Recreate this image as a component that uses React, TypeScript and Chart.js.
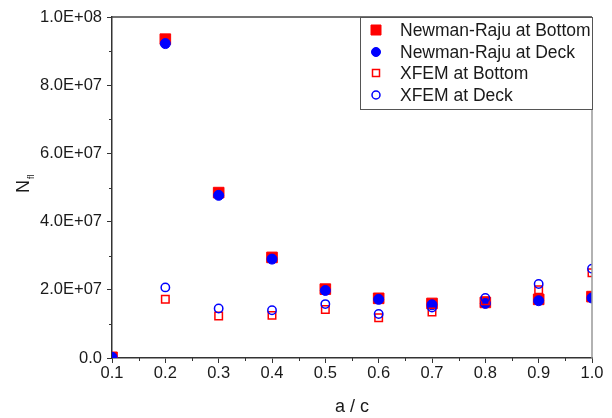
import React, { useEffect, useRef } from "react";
import { Chart, registerables } from "chart.js";

Chart.register(...registerables);

const xValues = [0.1, 0.2, 0.3, 0.4, 0.5, 0.6, 0.7, 0.8, 0.9, 1.0];
const nrBottom = [0.2e6, 93.5e6, 48.5e6, 29.5e6, 20.2e6, 17.5e6, 16.0e6, 16.3e6, 17.2e6, 18.0e6];
const nrDeck = [0.2e6, 92.2e6, 47.7e6, 29.0e6, 19.8e6, 17.2e6, 15.6e6, 16.0e6, 16.8e6, 17.6e6];
const xfemBottom = [null, 17.2e6, 12.3e6, 12.5e6, 14.2e6, 11.8e6, 13.5e6, 16.8e6, 20.0e6, 25.0e6];
const xfemDeck = [null, 20.7e6, 14.5e6, 14.0e6, 15.8e6, 12.9e6, 14.8e6, 17.6e6, 21.7e6, 26.2e6];
const seriesLabels = ["Newman-Raju at Bottom", "Newman-Raju at Deck", "XFEM at Bottom", "XFEM at Deck"];

const FONT = "'Liberation Sans', Arial, sans-serif";

const toPts = (arr: (number | null)[]) =>
  xValues.map((x, i) => ({ x, y: arr[i] })).filter((p) => p.y !== null);

const fmtY = (v: number) => {
  if (v === 0) return "0.0";
  return v
    .toExponential(1)
    .toUpperCase()
    .replace(/E([+-])(\d)$/, "E$10$2");
};

const decorPlugin = {
  id: "decor",
  afterDraw(chart: any) {
    const { ctx, chartArea } = chart;
    const { left, right, top, bottom } = chartArea;
    const xs = chart.scales.x;
    const ys = chart.scales.y;
    ctx.save();
    ctx.lineWidth = 1.5;
    ctx.strokeStyle = "#444";
    ctx.beginPath();
    ctx.moveTo(left, top);
    ctx.lineTo(right, top);
    ctx.stroke();
    ctx.strokeStyle = "#999";
    ctx.beginPath();
    ctx.moveTo(right, top);
    ctx.lineTo(right, bottom);
    ctx.stroke();
    ctx.strokeStyle = "#333";
    ctx.lineWidth = 1;
    for (let i = 0; i < 9; i++) {
      const px = Math.round(xs.getPixelForValue(0.15 + i * 0.1)) + 0.5;
      ctx.beginPath();
      ctx.moveTo(px, bottom);
      ctx.lineTo(px, bottom + 3);
      ctx.stroke();
    }
    for (let i = 0; i < 5; i++) {
      const py = Math.round(ys.getPixelForValue(1e7 + i * 2e7)) + 0.5;
      ctx.beginPath();
      ctx.moveTo(left, py);
      ctx.lineTo(left - 3, py);
      ctx.stroke();
    }
    ctx.fillStyle = "#1a1a1a";
    ctx.translate(24, 193);
    ctx.rotate(-Math.PI / 2);
    ctx.textBaseline = "middle";
    ctx.textAlign = "left";
    ctx.font = `18px ${FONT}`;
    ctx.fillText("N", 0, 0);
    const w = ctx.measureText("N").width;
    ctx.font = `9px ${FONT}`;
    ctx.fillText("fl", w + 1, 8);
    ctx.restore();

    ctx.save();
    const bx = 360.5, by = 17.5, bw = 232, bh = 92;
    ctx.fillStyle = "#fff";
    ctx.fillRect(bx, by, bw, bh);
    ctx.strokeStyle = "#555";
    ctx.lineWidth = 1;
    ctx.strokeRect(bx, by, bw, bh);
    ctx.font = `17.5px ${FONT}`;
    ctx.textBaseline = "middle";
    ctx.textAlign = "left";
    const rowY = [30, 52, 73, 95];
    chart.data.datasets.forEach((ds: any, i: number) => {
      const cy = rowY[i];
      const cx = 376;
      ctx.fillStyle = ds.backgroundColor;
      ctx.strokeStyle = ds.borderColor;
      ctx.lineWidth = ds.borderWidth;
      ctx.beginPath();
      if (ds.pointStyle === "rect") {
        const s = ds.legendSize;
        ctx.rect(cx - s / 2, cy - s / 2, s, s);
      } else {
        ctx.arc(cx, cy, ds.legendSize / 2, 0, Math.PI * 2);
      }
      if (ds.backgroundColor !== "rgba(0,0,0,0)") ctx.fill();
      ctx.stroke();
      ctx.fillStyle = "#1a1a1a";
      ctx.fillText(ds.label, 400, cy + 1);
    });
    ctx.restore();
  },
};

export default function App() {
  const ref = useRef<HTMLCanvasElement | null>(null);
  useEffect(() => {
    if (!ref.current) return;
    const chart = new Chart(ref.current, {
      type: "scatter",
      data: {
        datasets: [
          {
            label: seriesLabels[0],
            data: toPts(nrBottom),
            pointStyle: "rect",
            pointRadius: 7.5,
            backgroundColor: "#ff0000",
            borderColor: "#ff0000",
            borderWidth: 1,
            order: 4,
            clip: 0,
            legendSize: 10,
          } as any,
          {
            label: seriesLabels[1],
            data: toPts(nrDeck),
            pointStyle: "circle",
            pointRadius: 5,
            backgroundColor: "#0000ff",
            borderColor: "#0000ff",
            borderWidth: 1,
            order: 3,
            clip: 0,
            legendSize: 9,
          } as any,
          {
            label: seriesLabels[2],
            data: toPts(xfemBottom),
            pointStyle: "rect",
            pointRadius: 5.3,
            backgroundColor: "rgba(0,0,0,0)",
            borderColor: "#ff0000",
            borderWidth: 1.5,
            order: 2,
            clip: 0,
            legendSize: 7,
          } as any,
          {
            label: seriesLabels[3],
            data: toPts(xfemDeck),
            pointStyle: "circle",
            pointRadius: 4.2,
            backgroundColor: "rgba(0,0,0,0)",
            borderColor: "#0000ff",
            borderWidth: 1.5,
            order: 1,
            clip: 0,
            legendSize: 8,
          } as any,
        ],
      },
      options: {
        animation: false,
        responsive: false,
        maintainAspectRatio: false,
        layout: { padding: { top: 17, right: 20, left: 0, bottom: 0 } },
        plugins: { legend: { display: false }, tooltip: { enabled: false } },
        scales: {
          x: {
            type: "linear",
            min: 0.1,
            max: 1.0,
            ticks: {
              stepSize: 0.1,
              color: "#1a1a1a",
              font: { family: FONT, size: 16.5 },
              padding: 1,
              maxRotation: 0,
              callback: (v: any) => Number(v).toFixed(1),
            },
            grid: { display: true, drawOnChartArea: false, drawTicks: true, tickLength: 5, color: "#333" },
            border: { display: true, color: "#333", width: 1.5 },
            title: {
              display: true,
              text: "a / c",
              color: "#1a1a1a",
              font: { family: FONT, size: 18 },
              padding: { top: 4, bottom: 0 },
            },
            afterFit: (s: any) => {
              s.height = 418 - 358;
            },
          },
          y: {
            type: "linear",
            min: 0,
            max: 1e8,
            ticks: {
              stepSize: 2e7,
              color: "#1a1a1a",
              font: { family: FONT, size: 16.5 },
              padding: 5,
              callback: (v: any) => fmtY(Number(v)),
            },
            grid: { display: true, drawOnChartArea: false, drawTicks: true, tickLength: 5, color: "#333" },
            border: { display: true, color: "#333", width: 1.5 },
            afterFit: (s: any) => {
              s.width = 112;
            },
          },
        },
      },
      plugins: [decorPlugin],
    });
    return () => chart.destroy();
  }, []);
  return (
    <div style={{ position: "fixed", left: 0, top: 0, width: 612, height: 418, background: "#fff" }}>
      <canvas ref={ref} width={612} height={418} style={{ width: 612, height: 418 }} />
    </div>
  );
}
